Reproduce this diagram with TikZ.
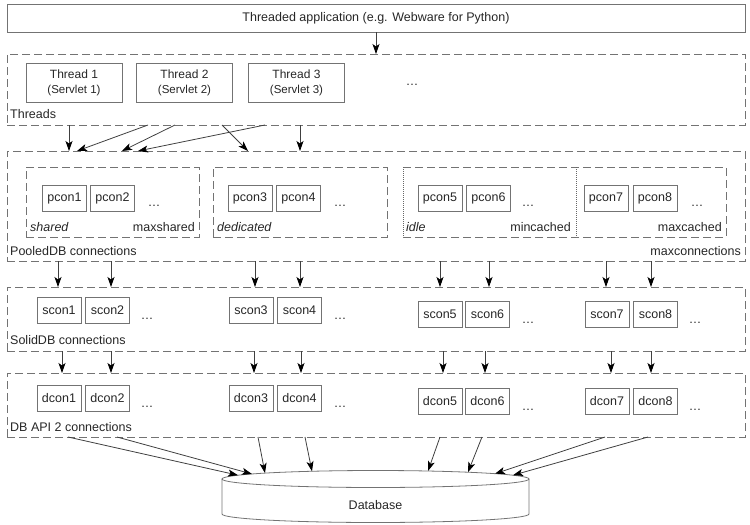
\documentclass[tikz,border=0pt]{standalone}
\usepackage{fontspec}
\setmainfont{Liberation Sans}
\usetikzlibrary{arrows.meta}
\begin{document}
\begin{tikzpicture}[x=1pt,y=-1pt,
  every node/.style={font=\fontsize{12.5}{14}\selectfont, text=black!85},
  grp/.style={draw=black!55, dash pattern=on 8pt off 4pt, line width=0.8pt, inner sep=0pt, outer sep=0pt},
  grpline/.style={draw=black!55, dash pattern=on 8pt off 4pt, line width=0.8pt},
  dotline/.style={draw=black!60, dash pattern=on 1pt off 1pt, line width=0.8pt},
  bx/.style={draw=black!55, line width=0.8pt, inner sep=0pt, outer sep=0pt},
  con/.style={bx, minimum width=44pt, minimum height=26pt},
  thr/.style={bx, minimum width=96pt, minimum height=39pt, align=center, font=\fontsize{12}{15}\selectfont},
  arr/.style={draw=black!75, line width=0.8pt, -{Stealth[length=10pt,width=7pt,inset=2.5pt,black]}},
  lbl/.style={anchor=base west, inner sep=0pt},
  rlbl/.style={anchor=base east, inner sep=0pt},
  dots/.style={anchor=base, inner sep=0pt}
]
\useasboundingbox (0,0) rectangle (750,525);

% application
\node[bx, minimum width=738pt, minimum height=28pt] (app) at (376,18) {Threaded application (e.g. Webware for Python)};

% threads
\node[grp, minimum width=738pt, minimum height=71pt] (threads) at (376,89.5) {};
\node[thr] (t1) at (74,82.5) {Thread 1\\{\fontsize{11.5}{15}\selectfont (Servlet 1)}};
\node[thr] (t2) at (184.5,82.5) {Thread 2\\{\fontsize{11.5}{15}\selectfont (Servlet 2)}};
\node[thr] (t3) at (296.5,82.5) {Thread 3\\{\fontsize{11.5}{15}\selectfont (Servlet 3)}};
\node[dots] (tdots) at (412,85) {\ldots};
\node[lbl] (threadslbl) at (10,118) {Threads};

% pooled
\node[grp, minimum width=738pt, minimum height=110pt] (pooled) at (376,206) {};
\node[grp, minimum width=173pt, minimum height=70pt] (shared) at (112.5,202) {};
\node[grp, minimum width=174pt, minimum height=70pt] (dedicated) at (300,202) {};
\node[inner sep=0pt, outer sep=0pt, minimum width=323pt, minimum height=70pt] (cached) at (564.5,202) {};
\node[inner sep=0pt, outer sep=0pt, minimum width=173pt, minimum height=70pt] (idle) at (489.5,202) {};
\draw[grpline] (cached.north west) -- (cached.north east) -- (cached.south east) -- (cached.south west);
\draw[dotline] (idle.north west) -- (idle.south west);
\draw[dotline] (idle.north east) -- (idle.south east);

\node[con] (p1) at (64.5,198) {pcon1};
\node[con] (p2) at (112.5,198) {pcon2};
\node[dots] (pd1) at (154,206) {\ldots};
\node[con] (p3) at (250,198) {pcon3};
\node[con] (p4) at (298.5,198) {pcon4};
\node[dots] (pd2) at (340,206) {\ldots};
\node[con] (p5) at (440,198) {pcon5};
\node[con] (p6) at (488.5,198) {pcon6};
\node[dots] (pd3) at (528,206) {\ldots};
\node[con] (p7) at (606,198) {pcon7};
\node[con] (p8) at (655,198) {pcon8};
\node[dots] (pd4) at (697,206) {\ldots};

\node[lbl, font=\fontsize{12.5}{14}\selectfont\itshape] (sharedlbl) at (30,231) {shared};
\node[rlbl] (maxsharedlbl) at (195,231) {maxshared};
\node[lbl, font=\fontsize{12.5}{14}\selectfont\itshape] (dedlbl) at (217,231) {dedicated};
\node[lbl, font=\fontsize{12.5}{14}\selectfont\itshape] (idlelbl) at (406,231) {idle};
\node[rlbl] (mincachedlbl) at (571,231) {mincached};
\node[rlbl] (maxcachedlbl) at (722,231) {maxcached};
\node[lbl] (pooledlbl) at (10,255) {PooledDB connections};
\node[rlbl] (maxconnlbl) at (741,255) {maxconnections};

% solid
\node[grp, minimum width=738pt, minimum height=64pt] (solid) at (376,319) {};
\node[con] (s1) at (59,310.5) {scon1};
\node[con] (s2) at (107.5,310.5) {scon2};
\node[dots] (sd1) at (147,319) {\ldots};
\node[con] (s3) at (251,310.5) {scon3};
\node[con] (s4) at (299.5,310.5) {scon4};
\node[dots] (sd2) at (340,319) {\ldots};
\node[con] (s5) at (440,314.5) {scon5};
\node[con] (s6) at (487.5,314.5) {scon6};
\node[dots] (sd3) at (528,323) {\ldots};
\node[con] (s7) at (607,314.5) {scon7};
\node[con] (s8) at (655.5,314.5) {scon8};
\node[dots] (sd4) at (695,323) {\ldots};
\node[lbl] (solidlbl) at (10,344) {SolidDB connections};

% db api
\node[grp, minimum width=738pt, minimum height=64pt] (dbapi) at (376,405) {};
\node[con] (d1) at (59,398.5) {dcon1};
\node[con] (d2) at (107.5,398.5) {dcon2};
\node[dots] (dd1) at (147,407) {\ldots};
\node[con] (d3) at (251,398.5) {dcon3};
\node[con] (d4) at (299.5,398.5) {dcon4};
\node[dots] (dd2) at (340,407) {\ldots};
\node[con] (d5) at (440,401.5) {dcon5};
\node[con] (d6) at (487.5,401.5) {dcon6};
\node[dots] (dd3) at (528,410) {\ldots};
\node[con] (d7) at (607,401.5) {dcon7};
\node[con] (d8) at (655.5,401.5) {dcon8};
\node[dots] (dd4) at (695,410) {\ldots};
\node[lbl] (dbapilbl) at (10,431.5) {DB API 2 connections};

% database cylinder
\draw[bx] (375.5,479) ellipse [x radius=153.5, y radius=8.5];
\draw[bx] (222,479) -- (222,514) .. controls (222,518.7) and (290.7,522.5) .. (375.5,522.5) .. controls (460.3,522.5) and (529,518.7) .. (529,514) -- (529,479);
\node (db) at (375.5,505) {Database};
\coordinate (e1) at (238,475.2);
\coordinate (e2) at (252,474);
\coordinate (e3) at (265,473.1);
\coordinate (e4) at (312,471.3);
\coordinate (e5) at (428,471);
\coordinate (e6) at (468,472.2);
\coordinate (e7) at (495,473.7);
\coordinate (e8) at (513,475.2);

% arrows
\draw[arr] (app.south -| threads.north) -- (threads.north);
\draw[arr] ([xshift=62pt]threads.south west) -- ([xshift=62pt]pooled.north west);
\draw[arr] ([xshift=141pt]threads.south west) -- ([xshift=70pt]pooled.north west);
\draw[arr] ([xshift=168pt]threads.south west) -- ([xshift=115pt]pooled.north west);
\draw[arr] ([xshift=258pt]threads.south west) -- ([xshift=131pt]pooled.north west);
\draw[arr] ([xshift=215pt]threads.south west) -- ([xshift=241pt]pooled.north west);
\draw[arr] ([xshift=293pt]threads.south west) -- ([xshift=293pt]pooled.north west);

\foreach \s in {51,104,248,293,433,482,599,644}
  \draw[arr] ([xshift=\s pt]pooled.south west) -- ([xshift=\s pt]solid.north west);
\foreach \s in {55,104,247,294,436,478,604,644}
  \draw[arr] ([xshift=\s pt]solid.south west) -- ([xshift=\s pt]dbapi.north west);

\draw[arr] ([xshift=61pt]dbapi.south west) -- (e1);
\draw[arr] ([xshift=110pt]dbapi.south west) -- (e2);
\draw[arr] ([xshift=251pt]dbapi.south west) -- (e3);
\draw[arr] ([xshift=298pt]dbapi.south west) -- (e4);
\draw[arr] ([xshift=433pt]dbapi.south west) -- (e5);
\draw[arr] ([xshift=475pt]dbapi.south west) -- (e6);
\draw[arr] ([xshift=598pt]dbapi.south west) -- (e7);
\draw[arr] ([xshift=641pt]dbapi.south west) -- (e8);
\end{tikzpicture}
\end{document}
